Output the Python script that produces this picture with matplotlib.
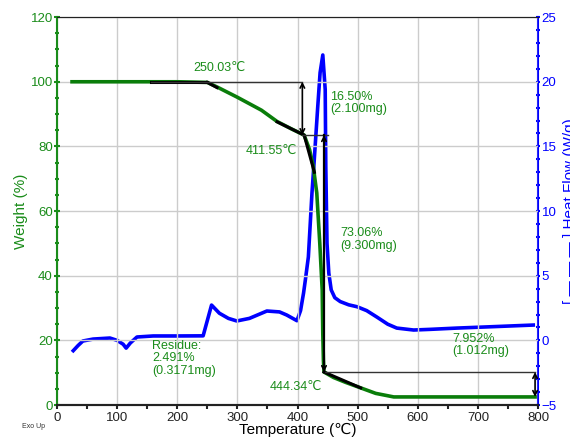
import matplotlib.pyplot as plt
from matplotlib.ticker import MultipleLocator

plt.rcParams['font.family'] = ['Liberation Sans', 'DejaVu Sans']

# Weight (%) vs temperature
temp_w = [25, 100, 200, 250, 266, 300, 340, 366, 390, 411, 420, 426, 432, 437,
          441, 442, 443, 444, 460, 480, 505, 530, 560, 600, 700, 795]
weight = [100, 100, 100, 99.8, 98.4, 95.2, 91.2, 87.7, 85.4, 83.5, 79, 74, 65.6, 50,
          35.6, 22, 14, 10.2, 8.5, 7, 5.3, 3.6, 2.5, 2.5, 2.5, 2.5]

# Heat flow (W/g) vs temperature
temp_h = [25, 35, 43, 60, 88, 100, 110, 115, 122, 133, 160, 200, 243, 248, 257,
          270, 285, 299, 320, 349, 370, 382, 399, 405, 410, 413, 418, 424, 427,
          433.5, 437.5, 442, 446, 447, 449, 452, 456, 462, 471, 485, 499, 515,
          532, 550, 565, 593, 620, 665, 720, 795]
heat = [-0.9, -0.4, -0.05, 0.1, 0.18, 0.0, -0.3, -0.6, -0.2, 0.26, 0.34, 0.34,
        0.35, 1.2, 2.73, 2.1, 1.7, 1.5, 1.7, 2.27, 2.2, 1.96, 1.52, 2.3, 3.66,
        4.67, 6.45, 11.4, 13.4, 18.0, 20.7, 22.07, 19.4, 13.4, 7.5, 5.2, 3.9,
        3.3, 3.0, 2.75, 2.6, 2.3, 1.8, 1.25, 0.95, 0.8, 0.85, 0.95, 1.05, 1.19]

# step-analysis construction (temperature, weight)
onset_t = [157, 250]
onset_w = [100, 100]
tangent1_t = [250, 266]
tangent1_w = [99.8, 98.2]
tangent2_t = [366, 411, 428]
tangent2_w = [87.6, 83.5, 72]
tangent3_t = [444, 505]
tangent3_w = [10.2, 5.3]

green = '#1a8c1a'
blue = '#0000ff'

fig = plt.figure(figsize=(5.7, 4.41), dpi=100)
ax = fig.add_axes([0.1, 0.0816, 0.844, 0.8796])
ax2 = ax.twinx()

ax.set_xlim(0, 800)
ax.set_ylim(0, 120)
ax2.set_ylim(-5, 25)

ax.xaxis.set_major_locator(MultipleLocator(100))
ax.xaxis.set_minor_locator(MultipleLocator(50))
ax.yaxis.set_major_locator(MultipleLocator(20))
ax.yaxis.set_minor_locator(MultipleLocator(5))
ax2.yaxis.set_major_locator(MultipleLocator(5))
ax2.yaxis.set_minor_locator(MultipleLocator(1))

ax.grid(True, which='major', color='#cccccc', lw=1)
ax.set_axisbelow(True)

ax2.plot(temp_h, heat, color=blue, lw=2.6, solid_capstyle='butt', zorder=2)
ax.plot(temp_w, weight, color='#0a7d0a', lw=2.6, zorder=3)
ax.set_zorder(ax2.get_zorder() + 1)
ax.patch.set_visible(False)

# construction lines
ax.plot(onset_t, onset_w, color='black', lw=2.2, zorder=4)
ax.plot(tangent1_t, tangent1_w, color='black', lw=2.2, zorder=4)
ax.plot(tangent2_t, tangent2_w, color='black', lw=2.2, zorder=4)
ax.plot(tangent3_t, tangent3_w, color='black', lw=2.2, zorder=4)
ax.plot([onset_t[0], 408], [100, 100], color='#333333', lw=1, zorder=4)
ax.plot([408, 451], [83.5, 83.5], color='#333333', lw=1, zorder=4)
ax.plot([444, 795], [10.2, 10.2], color='#333333', lw=1, zorder=4)
ax.plot([444, 444], [83.5, 10.2], color='black', lw=1.6, zorder=4)
for x0, y0, y1 in [(408, 100, 83.5), (444, 83.5, 10.2), (795, 10.2, 2.5)]:
    ax.annotate('', xy=(x0, y1), xytext=(x0, y0),
                arrowprops=dict(arrowstyle='<->', color='black', lw=1.2,
                                shrinkA=0, shrinkB=0, mutation_scale=8),
                zorder=5)

fs = 9
ax.text(226, 104.2, '250.03℃', color=green, fontsize=fs, va='center')
ax.text(454, 93.5, '16.50%\n(2.100mg)', color=green, fontsize=fs, va='center',
        linespacing=1.05)
ax.text(313, 78.6, '411.55℃', color=green, fontsize=fs, va='center')
ax.text(471, 51.2, '73.06%\n(9.300mg)', color=green, fontsize=fs, va='center',
        linespacing=1.05)
ax.text(158, 14.5, 'Residue:\n2.491%\n(0.3171mg)', color=green, fontsize=fs,
        va='center', linespacing=1.05)
ax.text(354, 5.6, '444.34℃', color=green, fontsize=fs, va='center')
ax.text(657, 18.5, '7.952%\n(1.012mg)', color=green, fontsize=fs, va='center',
        linespacing=1.05)
fig.text(0.038, 0.03, 'Exo Up', fontsize=5, color='#333333')

# spines and ticks
ax.spines['left'].set_color(green)
ax.spines['left'].set_linewidth(1.5)
ax2.spines['left'].set_visible(False)
ax2.spines['right'].set_color(blue)
ax2.spines['right'].set_linewidth(1.5)
ax.spines['right'].set_visible(False)
for a in (ax, ax2):
    a.spines['top'].set_color('#222222')
    a.spines['bottom'].set_color('#222222')
    a.spines['bottom'].set_linewidth(1.5)

ax.tick_params(axis='y', which='both', colors=green, direction='inout',
               labelsize=9.5, length=3, width=1.5, pad=1)
ax.tick_params(axis='y', which='major', length=4)
ax.tick_params(axis='x', which='both', colors='#222222', direction='out',
               labelsize=9.5, length=3, width=1.5, pad=2)
ax2.tick_params(axis='y', which='both', colors=blue, direction='inout',
                labelsize=9.5, length=3, width=1.5, pad=1)

ax.set_xlabel('Temperature (℃)', fontsize=11, labelpad=-1)
ax.set_ylabel('Weight (%)', color=green, fontsize=11, labelpad=2)
ax2.set_ylabel('[ — — — ] Heat Flow (W/g)', color=blue, fontsize=11,
               rotation=90)
ax2.yaxis.set_label_coords(1.052, 0.5)

fig.savefig('out.png', dpi=100)
